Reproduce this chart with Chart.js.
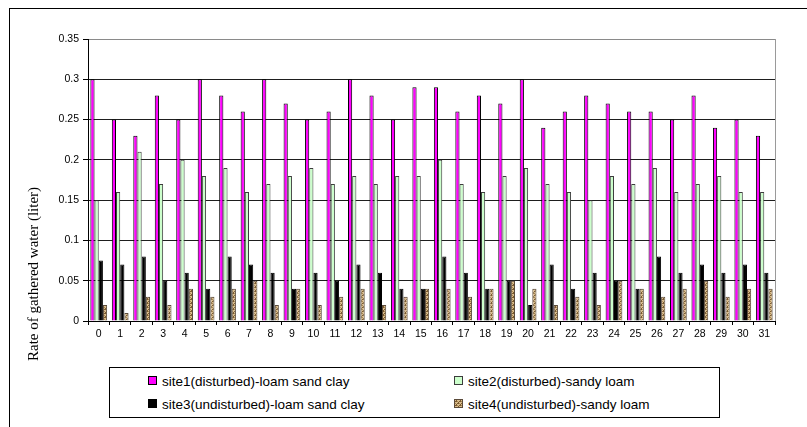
<!DOCTYPE html>
<html>
<head>
<meta charset="utf-8">
<script src="https://cdn.jsdelivr.net/npm/chart.js@4.4.1/dist/chart.umd.min.js"></script>
<style>
  html, body { margin: 0; padding: 0; background: #fff; }
  #wrap { position: relative; width: 807px; height: 427px; overflow: hidden; }
  #frame { position: absolute; left: 9px; top: 8px; width: 900px; height: 600px;
           border-left: 1px solid #000; border-top: 1px solid #000; }
  canvas { position: absolute; left: 0; top: 0; }
  #legend { position: absolute; left: 109px; top: 367px; width: 609px; height: 49px;
            border: 1px solid #000; background: #fff;
            font-family: "Liberation Sans", Arial, sans-serif; font-size: 13.5px; color: #000; }
  .item { position: absolute; white-space: nowrap; line-height: 16px; }
  .key { display: inline-block; width: 7px; height: 7px; border: 1px solid #000;
         margin-right: 5px; vertical-align: 1px; background-size: 4px 4px; }
</style>
</head>
<body>
<div id="wrap">
  <div id="frame"></div>
  <canvas id="c" width="807" height="427"></canvas>
  <div id="legend"></div>
</div>
<script>
// Day index along the x axis
const categories = ['0','1','2','3','4','5','6','7','8','9','10','11','12','13','14','15',
                    '16','17','18','19','20','21','22','23','24','25','26','27','28','29','30','31'];

const seriesNames = [
  'site1(disturbed)-loam sand clay',
  'site2(disturbed)-sandy loam',
  'site3(undisturbed)-loam sand clay',
  'site4(undisturbed)-sandy loam'
];

// Gathered water, liters
const site1 = [0.30,0.25,0.23,0.28,0.25,0.30,0.28,0.26,0.30,0.27,0.25,0.26,0.30,0.28,0.25,0.29,
               0.29,0.26,0.28,0.27,0.30,0.24,0.26,0.28,0.27,0.26,0.26,0.25,0.28,0.24,0.25,0.23];
const site2 = [0.15,0.16,0.21,0.17,0.20,0.18,0.19,0.16,0.17,0.18,0.19,0.17,0.18,0.17,0.18,0.18,
               0.20,0.17,0.16,0.18,0.19,0.17,0.16,0.15,0.18,0.17,0.19,0.16,0.17,0.18,0.16,0.16];
const site3 = [0.075,0.07,0.08,0.05,0.06,0.04,0.08,0.07,0.06,0.04,0.06,0.05,0.07,0.06,0.04,0.04,
               0.08,0.06,0.04,0.05,0.02,0.07,0.04,0.06,0.05,0.04,0.08,0.06,0.07,0.06,0.07,0.06];
const site4 = [0.02,0.01,0.03,0.02,0.04,0.03,0.04,0.05,0.02,0.04,0.02,0.03,0.04,0.02,0.03,0.04,
               0.04,0.03,0.04,0.05,0.04,0.02,0.03,0.02,0.05,0.04,0.03,0.04,0.05,0.03,0.04,0.04];

const yTickLabels = ['0','0.05','0.1','0.15','0.2','0.25','0.3','0.35'];

// Woven tan texture for the fourth series
const tile = document.createElement('canvas');
tile.width = 4; tile.height = 4;
const tctx = tile.getContext('2d');
tctx.fillStyle = '#D9BC8C'; tctx.fillRect(0, 0, 4, 4);
tctx.fillStyle = '#7A5A2E';
tctx.fillRect(0, 1, 2, 1); tctx.fillRect(2, 3, 2, 1);
tctx.fillRect(1, 0, 1, 1); tctx.fillRect(3, 2, 1, 1);
tctx.fillStyle = '#A8874F';
tctx.fillRect(0, 3, 1, 1); tctx.fillRect(2, 1, 1, 1);
const ctx = document.getElementById('c').getContext('2d');
const woven = ctx.createPattern(tile, 'repeat');

const fills = ['#FF00FF', '#CCFFCC', '#000000', woven];
const edges = ['#000000', '#3C3C3C', '#000000', '#5A4A3A'];
const values = [site1, site2, site3, site4];

const datasets = values.map((v, i) => ({
  label: seriesNames[i],
  data: v,
  backgroundColor: fills[i],
  borderColor: edges[i],
  borderWidth: 1,
  categoryPercentage: 0.78,
  barPercentage: 1.0
}));

// Right border of the plot area and the rotated value-axis title
const plotExtras = {
  id: 'plotExtras',
  afterDraw(chart) {
    const c = chart.ctx, a = chart.chartArea;
    c.save();
    c.strokeStyle = '#9A9A9A';
    c.lineWidth = 1;
    c.beginPath();
    c.moveTo(Math.round(a.right) + 0.5, a.top);
    c.lineTo(Math.round(a.right) + 0.5, a.bottom);
    c.stroke();
    c.translate(34, 274);
    c.rotate(-Math.PI / 2);
    c.fillStyle = '#000';
    c.font = '15px "Liberation Serif", "Times New Roman", serif';
    c.textAlign = 'center';
    c.textBaseline = 'middle';
    c.fillText('Rate of gathered water (liter)', 0, 0);
    c.restore();
  }
};

new Chart(ctx, {
  type: 'bar',
  data: { labels: categories, datasets },
  options: {
    responsive: false,
    animation: false,
    devicePixelRatio: 1,
    layout: { padding: { top: 39, right: 32, left: 0, bottom: 0 } },
    plugins: { legend: { display: false }, tooltip: { enabled: false } },
    scales: {
      x: {
        afterFit(s) { s.height = 106; },
        grid: { drawOnChartArea: false, drawTicks: true, tickLength: 4, color: '#000', offset: true },
        border: { display: true, color: '#000', width: 1 },
        ticks: { color: '#000', padding: 3, maxRotation: 0, autoSkip: false,
                 font: { family: '"Liberation Sans", Arial, sans-serif', size: 10.5 } }
      },
      y: {
        min: 0, max: 0.35,
        afterFit(s) { s.width = 88; },
        grid: {
          color: (c) => (c.tick && Math.abs(c.tick.value - 0.35) < 1e-9) ? '#8A8A8A' : '#1E1E1E',
          tickColor: '#000', tickLength: 5, lineWidth: 1
        },
        border: { display: true, color: '#000', width: 1 },
        ticks: {
          stepSize: 0.05, padding: 4, color: '#000',
          font: { family: '"Liberation Sans", Arial, sans-serif', size: 10.5 },
          callback: (v) => yTickLabels[Math.round(v / 0.05)]
        }
      }
    }
  },
  plugins: [plotExtras]
});

// Two-column boxed legend
const legend = document.getElementById('legend');
const slots = [[38, 6], [344, 6], [38, 29], [344, 29]];
seriesNames.forEach((name, i) => {
  const item = document.createElement('div');
  item.className = 'item';
  item.style.left = slots[i][0] + 'px';
  item.style.top = slots[i][1] + 'px';
  const key = document.createElement('span');
  key.className = 'key';
  if (i === 3) {
    key.style.backgroundImage = 'url(' + tile.toDataURL() + ')';
    key.style.borderColor = '#5A4A3A';
  } else {
    key.style.background = fills[i];
    key.style.borderColor = edges[i];
  }
  item.appendChild(key);
  item.appendChild(document.createTextNode(name));
  legend.appendChild(item);
});
</script>
</body>
</html>
